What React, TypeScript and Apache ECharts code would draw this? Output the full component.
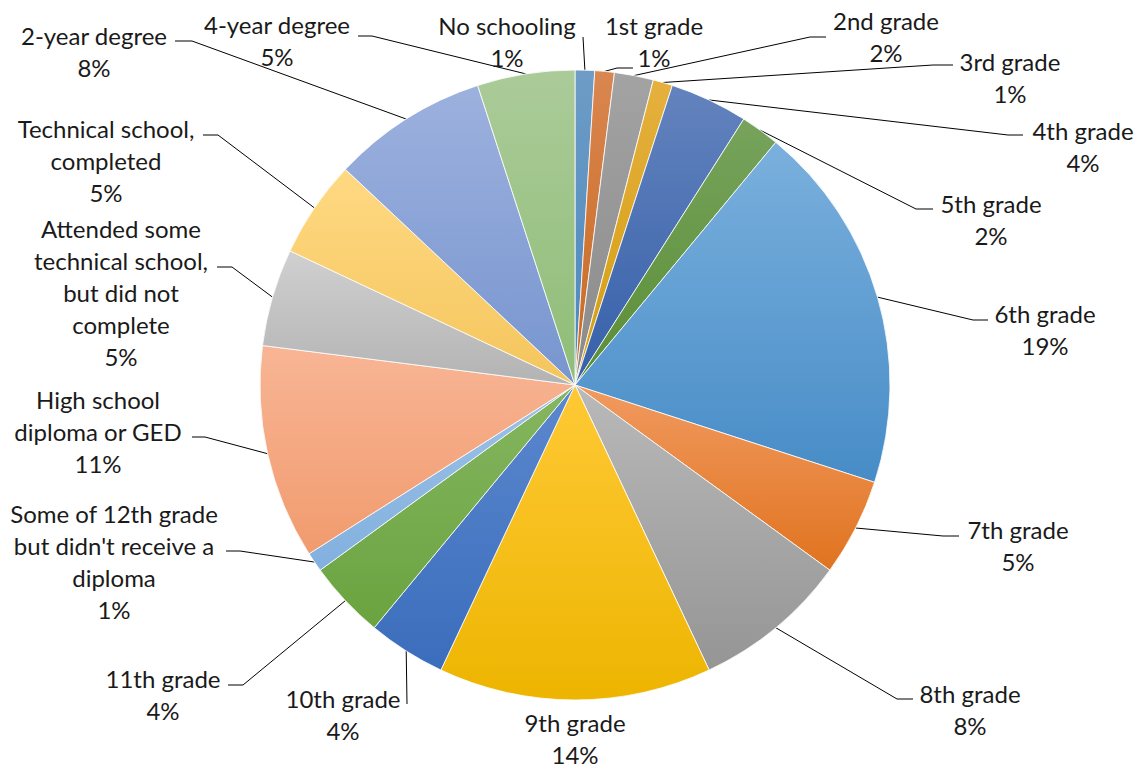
import React, { useEffect, useRef } from "react";
import * as echarts from "echarts";

const CATEGORIES = [
  "No schooling",
  "1st grade",
  "2nd grade",
  "3rd grade",
  "4th grade",
  "5th grade",
  "6th grade",
  "7th grade",
  "8th grade",
  "9th grade",
  "10th grade",
  "11th grade",
  "Some of 12th grade but didn't receive a diploma",
  "High school diploma or GED",
  "Attended some technical school, but did not complete",
  "Technical school, completed",
  "2-year degree",
  "4-year degree",
];

const VALUES = [1, 1, 2, 1, 4, 2, 19, 5, 8, 14, 4, 4, 1, 11, 5, 5, 8, 5];

// wrapped label text (same words as CATEGORIES)
const LABEL_TEXT = [
  "No schooling",
  "1st grade",
  "2nd grade",
  "3rd grade",
  "4th grade",
  "5th grade",
  "6th grade",
  "7th grade",
  "8th grade",
  "9th grade",
  "10th grade",
  "11th grade",
  "Some of 12th grade\nbut didn't receive a\ndiploma",
  "High school\ndiploma or GED",
  "Attended some\ntechnical school,\nbut did not\ncomplete",
  "Technical school,\ncompleted",
  "2-year degree",
  "4-year degree",
];

// gradient colours [top, bottom]
const COLORS: [string, string][] = [
  ["#6E9CC6", "#4A87BD"],
  ["#D98650", "#C8691F"],
  ["#A3A3A3", "#8A8A8A"],
  ["#E5B03E", "#D39E0E"],
  ["#6383BD", "#3660AA"],
  ["#77A35C", "#5A8E36"],
  ["#7AB0DD", "#478CC7"],
  ["#F19A60", "#E0731F"],
  ["#B9B9B9", "#959595"],
  ["#FFC936", "#EDB500"],
  ["#5C88CE", "#3A6DBC"],
  ["#86B661", "#6AA33F"],
  ["#9DC2E6", "#82B0DF"],
  ["#F8B595", "#F19B6E"],
  ["#D0D0D0", "#B3B3B3"],
  ["#FFD983", "#F4C55C"],
  ["#9DB1DE", "#7795CF"],
  ["#ABCB99", "#8FBD77"],
];

// label layout: text centre x, first line centre y, leader-line points after the slice edge
const LABEL_LAYOUT: { x: number; y: number; line: number[][] | null }[] = [
  { x: 507, y: 25, line: [[583, 37], [583, 37]] },
  { x: 654, y: 25, line: [[617, 68], [633, 68]] },
  { x: 886, y: 20, line: [[810, 37], [826, 37]] },
  { x: 1010, y: 61, line: [[933, 65], [953, 65]] },
  { x: 1083, y: 130, line: [[1008, 135], [1023, 135]] },
  { x: 991, y: 203, line: [[916, 209], [933, 209]] },
  { x: 1045, y: 313, line: [[973, 320], [988, 320]] },
  { x: 1018, y: 529, line: [[943, 536], [959, 536]] },
  { x: 970, y: 693, line: [[897, 699], [913, 699]] },
  { x: 575, y: 722, line: null },
  { x: 343, y: 698, line: [[407, 704], [407, 704]] },
  { x: 163, y: 678, line: [[243, 685], [228, 685]] },
  { x: 114, y: 513, line: [[240, 551], [226, 551]] },
  { x: 98, y: 399, line: [[205, 437], [192, 437]] },
  { x: 121, y: 228, line: [[232, 267], [217, 267]] },
  { x: 106, y: 128, line: [[218, 135], [203, 135]] },
  { x: 94, y: 35, line: [[192, 41], [175, 41]] },
  { x: 277, y: 24, line: [[372, 36], [358, 36]] },
];

const LINE_H = 32;
const FONT = "Lato, 'Noto Sans', sans-serif";

export default function App() {
  const ref = useRef<HTMLDivElement>(null);

  useEffect(() => {
    if (!ref.current) return;
    const chart = echarts.init(ref.current, null, { renderer: "svg" });
    const data = CATEGORIES.map((name, i) => ({
      name,
      value: VALUES[i],
      itemStyle: {
        color: new echarts.graphic.LinearGradient(0, 0, 0, 1, [
          { offset: 0, color: COLORS[i][0] },
          { offset: 1, color: COLORS[i][1] },
        ]),
      },
      labelLine: { show: LABEL_LAYOUT[i].line !== null },
    }));

    chart.setOption({
      animation: false,
      backgroundColor: "#ffffff",
      series: [
        {
          type: "pie",
          center: [575, 385],
          radius: 315,
          startAngle: 90,
          clockwise: true,
          data,
          itemStyle: { borderColor: "#ffffff", borderWidth: 0.8 },
          label: {
            show: true,
            position: "outside",
            formatter: (p: any) =>
              LABEL_TEXT[p.dataIndex] + "\n" + Math.round(p.percent) + "%",
            fontFamily: FONT,
            fontSize: 24,
            lineHeight: LINE_H,
            color: "#1a1a1a",
            align: "center",
          },
          labelLine: {
            show: true,
            length: 10,
            length2: 10,
            lineStyle: { color: "#000000", width: 1 },
          },
          labelLayout: (params: any) => {
            const i = params.dataIndex;
            const L = LABEL_LAYOUT[i];
            const nLines = LABEL_TEXT[i].split("\n").length + 1;
            const res: any = {
              x: L.x,
              y: L.y + ((nLines - 1) * LINE_H) / 2,
              align: "center",
              verticalAlign: "middle",
              hideOverlap: false,
              moveOverlap: null,
            };
            if (L.line && params.labelLinePoints) {
              res.labelLinePoints = [params.labelLinePoints[0], L.line[0], L.line[1]];
            }
            return res;
          },
        },
      ],
    });
    return () => chart.dispose();
  }, []);

  return (
    <div
      ref={ref}
      style={{ position: "absolute", left: 0, top: 0, width: 1146, height: 770, background: "#fff" }}
    />
  );
}
